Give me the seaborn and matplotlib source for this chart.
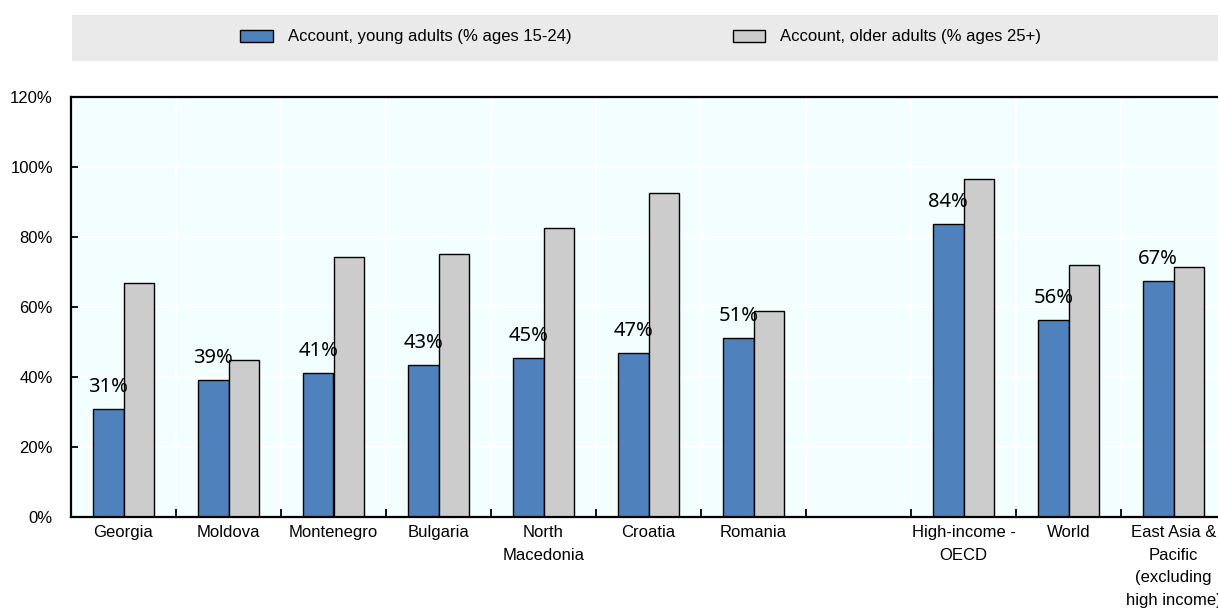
import matplotlib
matplotlib.use("Agg")
import numpy as np
import pandas as pd
import matplotlib.pyplot as plt
import seaborn as sns
from matplotlib.patches import Patch, Rectangle
from matplotlib.ticker import FixedLocator, FuncFormatter

# Economies and regional aggregates (a blank slot separates the two groups)
regions = ["Georgia", "Moldova", "Montenegro", "Bulgaria", "North\nMacedonia",
           "Croatia", "Romania", "High-income -\nOECD", "World",
           "East Asia &\nPacific\n(excluding\nhigh income)"]
slot_order = regions[:7] + [""] + regions[7:]

# Share of adults with an account (%)
young = [30.8, 39.2, 41.1, 43.4, 45.3, 46.8, 51.1, 83.6, 56.3, 67.4]
older = [66.9, 44.9, 74.3, 75.1, 82.6, 92.6, 58.9, 96.5, 72.0, 71.3]

series = ["Account, young adults (% ages 15-24)",
          "Account, older adults (% ages 25+)"]
colors = ["#4F81BD", "#CCCCCC"]
y_ticks = [0, 20, 40, 60, 80, 100, 120]

df = pd.DataFrame({
    "region": regions * 2,
    "series": [series[0]] * len(regions) + [series[1]] * len(regions),
    "value": young + older,
})

sns.set_theme(style="white")
plt.rcParams["font.family"] = ["Liberation Sans", "DejaVu Sans"]
plt.rcParams["text.color"] = "black"
plt.rcParams["xtick.color"] = "black"
plt.rcParams["ytick.color"] = "black"

W, H = 1218, 611
fig = plt.figure(figsize=(W / 100, H / 100), dpi=100)
ax = fig.add_axes([71 / W, 1 - 517 / H, 1155 / W, 420 / H])
ax.set_facecolor("#F3FEFF")

sns.barplot(data=df, x="region", y="value", hue="series", order=slot_order,
            hue_order=series, palette=colors, saturation=1, width=0.58,
            edgecolor="black", linewidth=1, legend=False, ax=ax)

ax.set_xlim(-0.5, len(slot_order) - 0.5)
ax.set_ylim(0, 120)
ax.set_xlabel("")
ax.set_ylabel("")

# Axis ticks and percent labels
ax.yaxis.set_major_locator(FixedLocator(y_ticks))
ax.yaxis.set_major_formatter(FuncFormatter(lambda v, _: f"{v:.0f}%"))
ax.xaxis.set_minor_locator(FixedLocator(np.arange(0.5, len(slot_order) - 0.5, 1)))
ax.tick_params(axis="x", which="major", length=0, pad=6, labelsize=12,
               labelcolor="black")
ax.tick_params(axis="x", which="minor", direction="in", length=6, width=1.3,
               color="black", bottom=True)
ax.tick_params(axis="y", which="major", direction="in", length=5, width=1.3,
               color="black", left=True, labelsize=12, pad=13,
               labelcolor="black")
for lbl in ax.get_xticklabels():
    lbl.set_linespacing(1.62)

# White grid behind the bars
ax.set_axisbelow(True)
ax.grid(which="major", axis="y", color="white", linewidth=1.5)
ax.grid(which="minor", axis="x", color="white", linewidth=1.5)

for side in ["left", "bottom", "top"]:
    ax.spines[side].set_visible(True)
    ax.spines[side].set_color("black")
    ax.spines[side].set_linewidth(1.6)
ax.spines["right"].set_visible(False)

# Value labels above the young-adult bars
for bar, v in zip(ax.containers[0], young):
    ax.annotate(f"{v:.0f}%", xy=(bar.get_x() + bar.get_width() / 2, bar.get_height()),
                xytext=(0, 12.3), textcoords="offset points", ha="center",
                va="baseline", fontsize=14.5, family=["Noto Sans", "DejaVu Sans"],
                color="black")

# Legend band across the top
fig.patches.append(Rectangle((72 / W, 1 - 61 / H), 1 - 72 / W, 46 / H,
                             transform=fig.transFigure, facecolor="#EAEAEA",
                             edgecolor="none", zorder=0))
handles = [Patch(facecolor=c, edgecolor="black", linewidth=1) for c in colors]
fig.legend(handles, series, loc="center left", bbox_to_anchor=(240 / W, 1 - 37 / H),
           ncol=2, frameon=False, fontsize=12, handlelength=1.95,
           handleheight=0.72, handletextpad=0.9, columnspacing=9.7,
           borderpad=0, borderaxespad=0)

fig.savefig("out.png", dpi=100)
